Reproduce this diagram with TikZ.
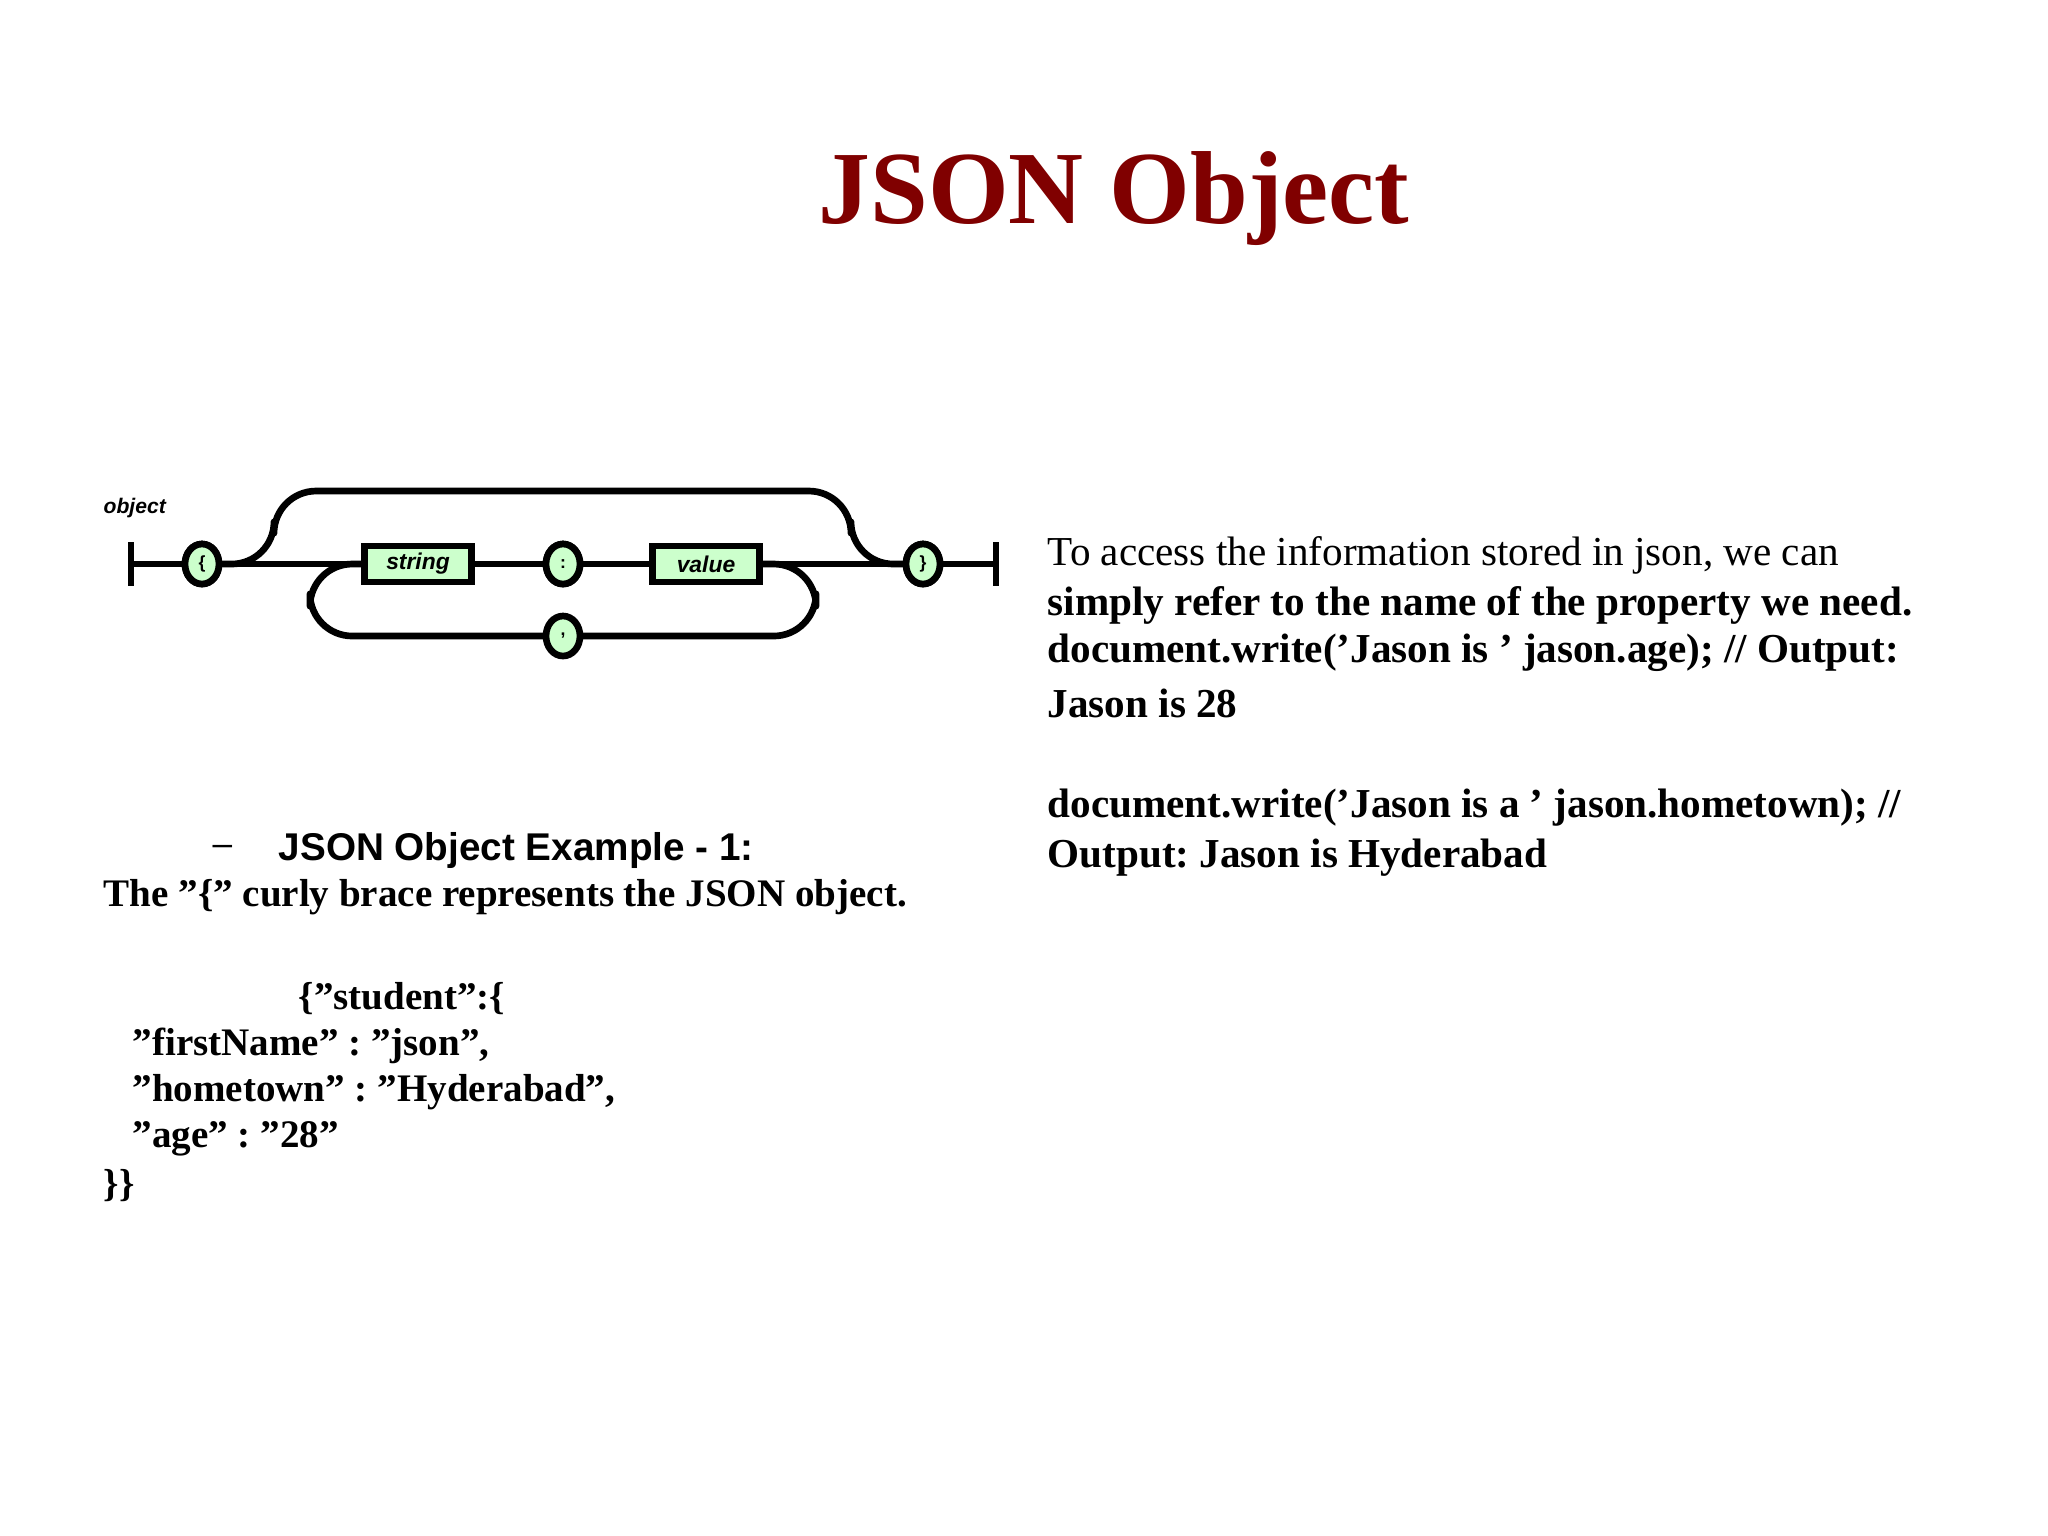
\documentclass[tikz,border=0pt]{standalone}
\usepackage{fontspec}
\setmainfont{Liberation Serif}
\setsansfont{Liberation Sans}
\usetikzlibrary{shapes.geometric}
\newcommand\qq{\symbol{34}}
\newcommand\ap{\symbol{39}}
\frenchspacing
\begin{document}
\begin{tikzpicture}[x=0.01cm,y=-0.01cm,
  rail/.style={line width=1.9pt,line join=round},
  term/.style={ellipse,draw,line width=1.9pt,fill=green!20,minimum width=0.34cm,minimum height=0.40cm,inner sep=0pt,font=\sffamily\bfseries\tiny},
  nterm/.style={rectangle,draw,line width=1.9pt,fill=green!20,minimum width=1.07cm,minimum height=0.36cm,inner sep=0pt,font=\sffamily\bfseries\itshape\fontsize{6.5}{8}\selectfont},
  rt/.style={anchor=west,inner sep=0pt,font=\fontsize{11.7}{14}\selectfont},
  lt/.style={anchor=west,inner sep=0pt,font=\bfseries\fontsize{11.7}{14}\selectfont},
  ct/.style={anchor=west,inner sep=0pt,font=\bfseries\fontsize{11.1}{14}\selectfont}]
\fill[white] (0,0) rectangle (2048,1535);
\definecolor{titlered}{RGB}{128,0,0}
\node[font=\bfseries\fontsize{29.5}{36}\selectfont,text=titlered] (title) at (1114,199) {JSON Object};
% diagram
\node[anchor=west,inner sep=0pt,font=\sffamily\bfseries\itshape\fontsize{6}{8}\selectfont] (lab) at (103,508) {object};
\coordinate (l1) at (131,542); \coordinate (l2) at (131,586);
\coordinate (r1) at (996,542); \coordinate (r2) at (996,586);
\coordinate (ls) at (131,564); \coordinate (re) at (996,564);
\node[term] (ob) at (202,564) {\{};
\node[nterm] (str) at (418,564) {string};
\node[term] (col) at (563,564) {:};
\node[nterm] (val) at (706,564) {value};
\node[term] (cb) at (923,564) {\}};
\draw[rail] (l1) -- (l2);
\draw[rail] (r1) -- (r2);
\draw[rail,rounded corners=12] (ob.east) -- (274,564) -- (274,491) -- (851,491) -- (851,564) -- (cb.west);
\draw[rail,rounded corners=12] (str.west) -- (310,564) -- (310,636) -- (816,636) -- (816,564) -- (val.east);
\draw[rail] (ls) -- (ob) -- (str) -- (col) -- (val) -- (cb) -- (re);
\node[term] (com) at (563,636) {,};
\node[term] at (202,564) {\{};
\node[term] at (563,564) {:};
\node[term] at (923,564) {\}};
\node[nterm] at (418,564) {string};
\node[nterm] at (706,564) {value};
% right text
\node[rt] (t1) at (1047,555) {To access the information stored in json, we can};
\node[lt] (t2) at (1047,605) {simply refer to the name of the property we need.};
\node[lt] (t3) at (1047,653) {document.write(\ap Jason is \ap{} jason.age); // Output:};
\node[lt] (t4) at (1047,703) {Jason is 28};
\node[lt] (t5) at (1047,808) {document.write(\ap Jason is a \ap{} jason.hometown); //};
\node[lt] (t6) at (1047,858) {Output: Jason is Hyderabad};
% left text
\node[anchor=west,inner sep=0pt,font=\sffamily\fontsize{10}{12}\selectfont] (dash) at (212,850) {–};
\node[anchor=west,inner sep=0pt,font=\sffamily\bfseries\fontsize{11}{14}\selectfont] (ex) at (278,850) {JSON Object Example - 1:};
\node[ct] (br) at (103,897) {The \qq\{\qq{} curly brace represents the JSON object.};
\node[ct] (c1) at (298,999) {\{\qq student\qq:\{};
\node[ct] (c2) at (132,1046) {\qq firstName\qq{} : \qq json\qq,};
\node[ct] (c3) at (132,1092) {\qq hometown\qq{} : \qq Hyderabad\qq,};
\node[ct] (c4) at (132,1139) {\qq age\qq{} : \qq 28\qq};
\node[ct] (c5) at (103,1186) {\}\}};
\end{tikzpicture}
\end{document}
